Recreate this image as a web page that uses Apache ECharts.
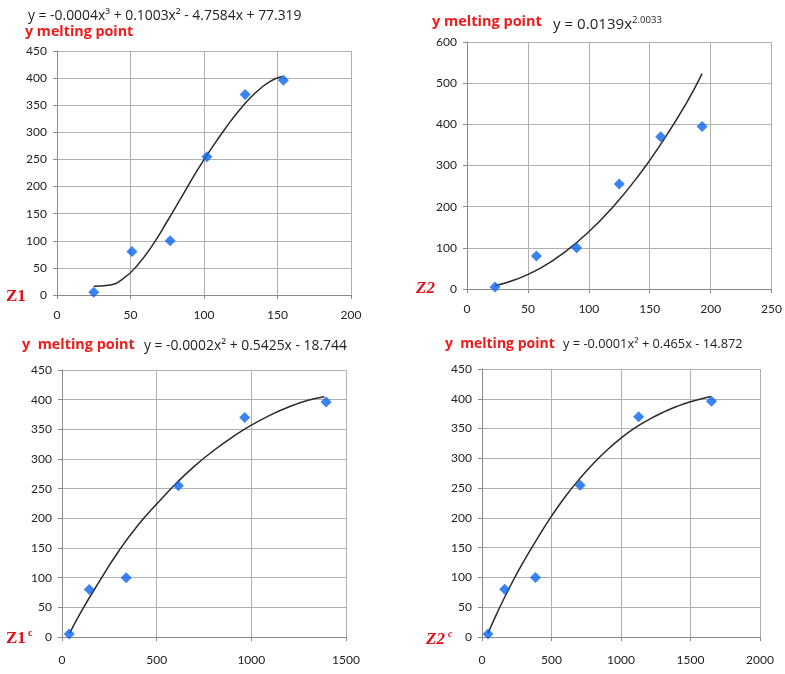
<!DOCTYPE html>
<html>
<head>
<meta charset="utf-8">
<script src="https://cdn.jsdelivr.net/npm/echarts@6/dist/echarts.min.js"></script>
<style>
html,body{margin:0;padding:0;background:#fff;}
#chart{width:785px;height:674px;}
</style>
</head>
<body>
<div id="chart"></div>
<script>
// ---- Data ----
const z1X = [25, 51, 77, 102, 128, 154];
const z1Y = [5, 80, 100, 255, 370, 396];
const z1FitX = [25, 35, 45, 55, 65, 75, 85, 95, 105, 115, 125, 135, 145, 153];
const z1FitY = [16, 18, 30, 56, 92, 136, 182, 228, 270, 309, 344, 373, 394, 403];

const z2X = [23, 57, 90, 125, 159, 193];
const z2Y = [5, 80, 100, 255, 370, 395];
const z2FitX = [23, 40, 60, 80, 100, 120, 140, 160, 180, 193];
const z2FitY = [8, 23, 50, 89, 139, 200, 272, 356, 451, 523];

const z1cX = [38, 144, 339, 615, 965, 1395];
const z1cY = [5, 80, 100, 255, 370, 396];
const z1cFitX = [40, 100, 200, 300, 400, 500, 600, 700, 800, 900, 1000, 1100, 1200, 1300, 1386];
const z1cFitY = [6, 42, 95, 145, 188, 224, 258, 288, 314, 337, 357, 374, 388, 399, 405];

const z2cX = [43, 163, 385, 706, 1127, 1651];
const z2cY = [5, 80, 100, 255, 370, 396];
const z2cFitX = [43, 100, 200, 300, 400, 500, 600, 700, 800, 900, 1000, 1100, 1200, 1300, 1400, 1500, 1646];
const z2cFitY = [6, 36, 84, 127, 166, 203, 236, 265, 291, 314, 334, 351, 365, 377, 387, 395, 404];

const xRanges = [[0, 200, 50], [0, 250, 50], [0, 1500, 500], [0, 2000, 500]];
const yRanges = [[0, 450, 50], [0, 600, 100], [0, 450, 50], [0, 450, 50]];

const eq1 = 'y = -0.0004x\u00B3 + 0.1003x\u00B2 - 4.7584x + 77.319';
const eq2 = 'y = 0.0139x';
const eq2Exp = '2.0033';
const eq3 = 'y = -0.0002x\u00B2 + 0.5425x - 18.744';
const eq4 = 'y = -0.0001x\u00B2 + 0.465x - 14.872';
const yTitle = 'y melting point';
const yTitle2 = 'y  melting point';

// ---- Layout ----
const grids = [
  {left: 57, top: 51, width: 294, height: 244},
  {left: 467, top: 42, width: 305, height: 247},
  {left: 62, top: 370, width: 284, height: 267},
  {left: 482, top: 369, width: 278, height: 268}
];

const gridColor = '#b0b0b0';
const axisColor = '#8a8a8a';
const labelFont = {fontFamily: 'Lato', fontSize: 12, color: '#222'};

const xAxes = xRanges.map((r, i) => ({
  type: 'value', gridIndex: i, min: r[0], max: r[1], interval: r[2],
  axisLine: {show: true, lineStyle: {color: axisColor}},
  axisTick: {show: true, length: 4, lineStyle: {color: axisColor}},
  splitLine: {show: true, lineStyle: {color: gridColor}},
  axisLabel: Object.assign({margin: i < 2 ? 14 : 17, formatter: v => String(v)}, labelFont)
}));
const yAxes = yRanges.map((r, i) => ({
  type: 'value', gridIndex: i, min: r[0], max: r[1], interval: r[2],
  axisLine: {show: true, lineStyle: {color: axisColor}},
  axisTick: {show: true, length: 4, lineStyle: {color: axisColor}},
  splitLine: {show: true, lineStyle: {color: gridColor}},
  axisLabel: Object.assign({margin: 10, formatter: v => String(v)}, labelFont)
}));

function pts(xs, ys) { return xs.map((x, i) => [x, ys[i]]); }
const sets = [
  [z1X, z1Y, z1FitX, z1FitY],
  [z2X, z2Y, z2FitX, z2FitY],
  [z1cX, z1cY, z1cFitX, z1cFitY],
  [z2cX, z2cY, z2cFitX, z2cFitY]
];
const series = [];
sets.forEach((s, i) => {
  series.push({
    type: 'line', xAxisIndex: i, yAxisIndex: i, data: pts(s[2], s[3]),
    smooth: 0.5, showSymbol: false,
    lineStyle: {color: '#2a2a2a', width: 1.5}, z: 2
  });
  series.push({
    type: 'scatter', xAxisIndex: i, yAxisIndex: i, data: pts(s[0], s[1]),
    symbol: 'diamond', symbolSize: 11, itemStyle: {color: '#0a64f0'}, z: 3
  });
});

// fit a text to a target width by measuring it
const mctx = document.createElement('canvas').getContext('2d');
function fitFont(text, prefix, family, width) {
  mctx.font = prefix + ' 20px ' + family;
  const w = mctx.measureText(text).width;
  const size = Math.round(20 * width / w * 10) / 10;
  return prefix + ' ' + size + 'px ' + family;
}
function txt(left, top, text, font, fill) {
  return {type: 'text', left: left, top: top, style: {text: text, font: font, fill: fill}};
}
const fam = '"Open Sans"';
const red = '#f01a1a';
const zRed = '#e0101a';
const ink = '#222';

const graphic = [
  txt(28, 9, eq1, fitFont(eq1, 'normal', fam, 274), ink),
  txt(25, 25, yTitle, fitFont(yTitle, 'bold', fam, 108), red),
  txt(432, 14, yTitle, fitFont(yTitle, 'bold', fam, 110), red),
  txt(553, 17, eq2, fitFont(eq2, 'normal', fam, 79), ink),
  txt(632, 15, eq2Exp, fitFont(eq2Exp, 'normal', fam, 30), ink),
  txt(22, 338, yTitle2, fitFont(yTitle2, 'bold', fam, 113), red),
  txt(144, 339, eq3, fitFont(eq3, 'normal', fam, 203), ink),
  txt(445, 337, yTitle2, fitFont(yTitle2, 'bold', fam, 110), red),
  txt(563, 338, eq4, fitFont(eq4, 'normal', fam, 180), ink),
  txt(6, 288, 'Z1', 'bold 17px "Liberation Serif"', zRed),
  txt(416, 280, 'Z2', 'italic bold 17px "Liberation Serif"', zRed),
  txt(6, 630, 'Z1', 'bold 17px "Liberation Serif"', zRed),
  txt(28, 628, 'c', 'bold 10px "Liberation Serif"', zRed),
  txt(426, 631, 'Z2', 'italic bold 17px "Liberation Serif"', zRed),
  txt(448, 629, 'c', 'italic bold 10px "Liberation Serif"', zRed)
];

const chart = echarts.init(document.getElementById('chart'));
chart.setOption({
  animation: false,
  backgroundColor: '#fff',
  grid: grids,
  xAxis: xAxes,
  yAxis: yAxes,
  series: series,
  graphic: graphic
});
</script>
</body>
</html>
